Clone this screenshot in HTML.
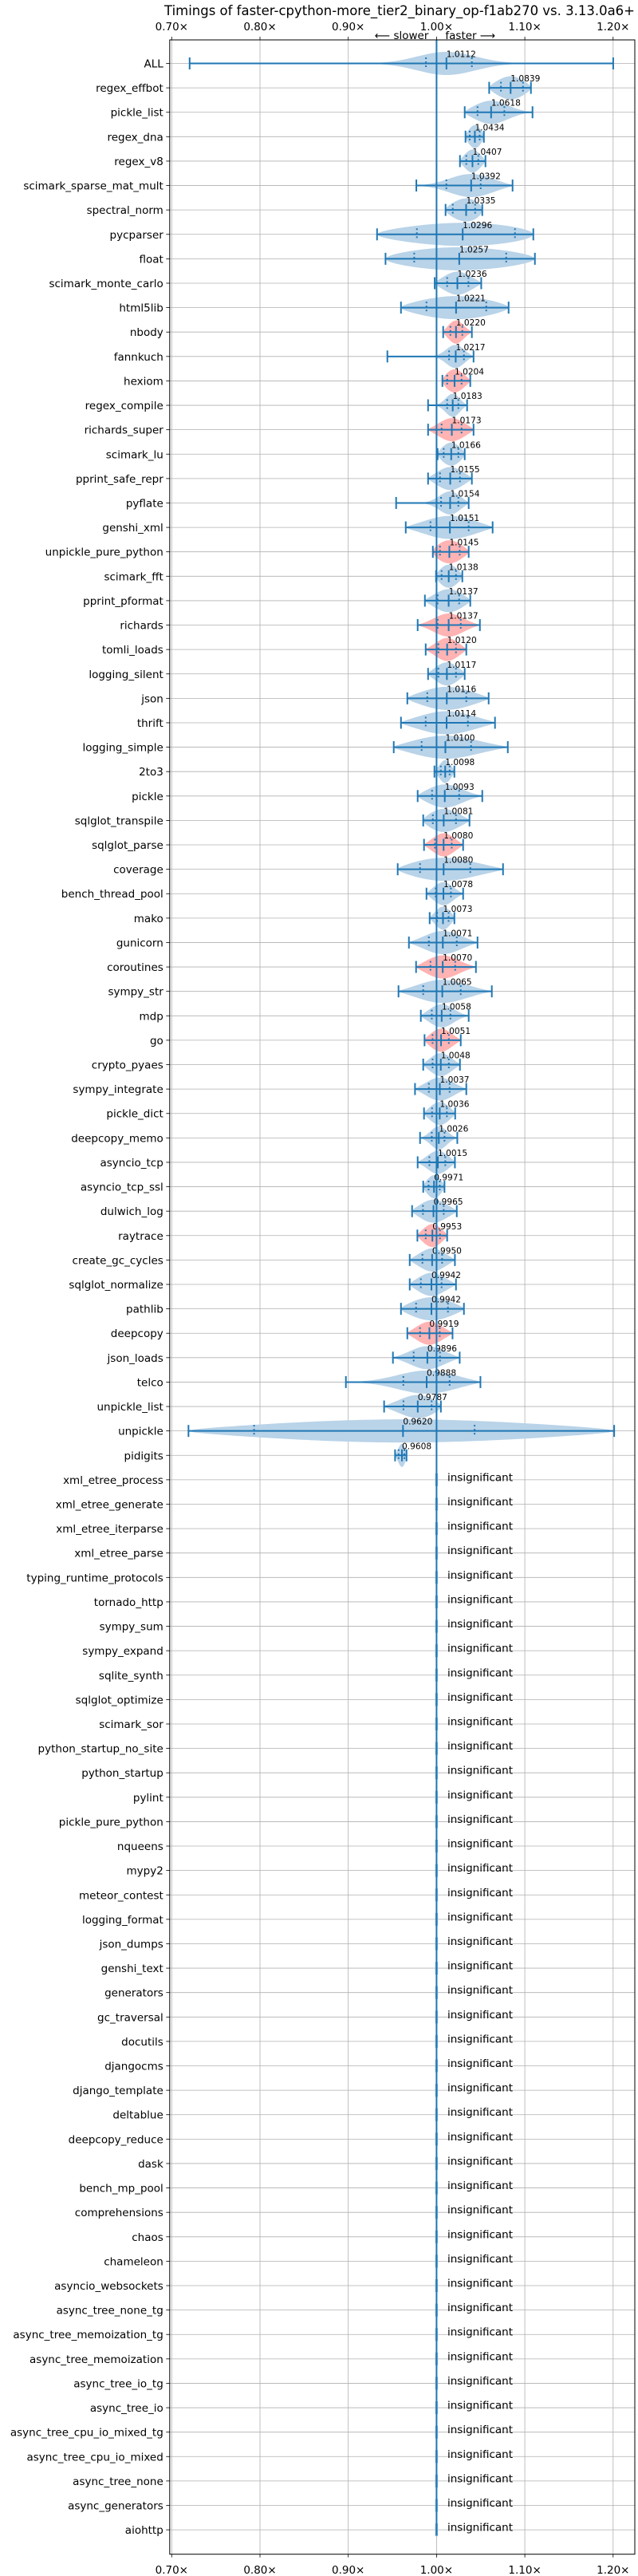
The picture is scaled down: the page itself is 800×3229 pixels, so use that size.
<!DOCTYPE html>
<html>
<head>
<meta charset="utf-8">
<style>
html,body{margin:0;padding:0;background:#fff;}
svg{display:block;font-family:"DejaVu Sans","Liberation Sans",sans-serif;}
</style>
</head>
<body>
<svg id="chart" width="800" height="3229" viewBox="0 0 800 3229" xmlns="http://www.w3.org/2000/svg">
<text x="501" y="19" font-size="16.5" text-anchor="middle" textLength="590" lengthAdjust="spacingAndGlyphs">Timings of faster-cpython-more_tier2_binary_op-f1ab270 vs. 3.13.0a6+</text>
<g id="grid"></g>
<g id="marks"></g>
<g id="axes"></g>
</svg>
<script>
const sigNames = ["ALL","regex_effbot","pickle_list","regex_dna","regex_v8","scimark_sparse_mat_mult","spectral_norm","pycparser","float","scimark_monte_carlo","html5lib","nbody","fannkuch","hexiom","regex_compile","richards_super","scimark_lu","pprint_safe_repr","pyflate","genshi_xml","unpickle_pure_python","scimark_fft","pprint_pformat","richards","tomli_loads","logging_silent","json","thrift","logging_simple","2to3","pickle","sqlglot_transpile","sqlglot_parse","coverage","bench_thread_pool","mako","gunicorn","coroutines","sympy_str","mdp","go","crypto_pyaes","sympy_integrate","pickle_dict","deepcopy_memo","asyncio_tcp","asyncio_tcp_ssl","dulwich_log","raytrace","create_gc_cycles","sqlglot_normalize","pathlib","deepcopy","json_loads","telco","unpickle_list","unpickle","pidigits"];
const mins = [0.7203,1.0596,1.0319,1.0328,1.0265,0.9771,1.0102,0.9326,0.9422,0.9979,0.9597,1.0075,0.9443,1.0066,0.9904,0.9904,1.0012,0.9904,0.9542,0.9651,0.9958,0.9994,0.9868,0.9786,0.9877,0.9904,0.9669,0.9597,0.9515,0.9976,0.9786,0.9849,0.9858,0.956,0.9886,0.9922,0.9687,0.9768,0.9569,0.9822,0.9864,0.9849,0.9756,0.9858,0.9813,0.9786,0.9849,0.9723,0.9783,0.9696,0.9696,0.9597,0.9669,0.9506,0.8973,0.9406,0.719,0.953];
const q1s = [0.988,1.0729,1.0464,1.0376,1.0337,1.0111,1.0184,0.9777,0.9747,1.012,0.9886,1.0157,1.0142,1.012,1.012,1.0057,1.0081,1.0039,1.0051,0.9931,1.0039,1.0057,1.0012,1.0012,1.0021,1.0021,0.9895,0.9877,0.9831,1.0048,0.9949,0.9958,0.9982,0.9813,0.9991,1.0006,0.9913,0.9931,0.9849,0.9946,0.9955,0.9955,0.9913,0.9949,0.9946,0.9919,0.991,0.9846,0.9877,0.984,0.9822,0.9768,0.9813,0.9741,0.9624,0.9625,0.7933,0.957];
const medians = [1.0112,1.0839,1.0618,1.0434,1.0407,1.0392,1.0335,1.0296,1.0257,1.0236,1.0221,1.0220,1.0217,1.0204,1.0183,1.0173,1.0166,1.0155,1.0154,1.0151,1.0145,1.0138,1.0137,1.0137,1.0120,1.0117,1.0116,1.0114,1.0100,1.0098,1.0093,1.0081,1.0080,1.0080,1.0078,1.0073,1.0071,1.0070,1.0065,1.0058,1.0051,1.0048,1.0037,1.0036,1.0026,1.0015,0.9971,0.9965,0.9953,0.9950,0.9942,0.9942,0.9919,0.9896,0.9888,0.9787,0.9620,0.9608];
const q3s = [1.040,1.0979,1.0768,1.0488,1.0473,1.05,1.0437,1.0888,1.0789,1.0361,1.0563,1.0292,1.031,1.0283,1.0247,1.0283,1.0247,1.0265,1.0247,1.0364,1.0262,1.022,1.0256,1.0274,1.022,1.022,1.0337,1.0355,1.0391,1.0148,1.0256,1.022,1.0172,1.0382,1.0163,1.0136,1.0229,1.0211,1.0274,1.0157,1.0139,1.0139,1.0148,1.0117,1.009,1.0099,1.0036,1.0081,1.0039,1.0063,1.0057,1.0129,1.0036,1.0039,1.0148,0.9944,1.0431,0.9635];
const maxs = [1.2001,1.1069,1.1087,1.0536,1.0554,1.0861,1.0518,1.1096,1.1114,1.0506,1.0816,1.04,1.0419,1.0382,1.0346,1.0419,1.0319,1.04,1.0364,1.0635,1.0364,1.0292,1.0382,1.0491,1.0337,1.0319,1.059,1.0662,1.0807,1.0202,1.0518,1.0373,1.0301,1.0753,1.0301,1.0202,1.0464,1.0446,1.0626,1.0364,1.0274,1.0265,1.0337,1.0211,1.0235,1.0208,1.009,1.0229,1.012,1.0208,1.022,1.031,1.0181,1.0262,1.0497,1.0049,1.2012,0.966];
const slowerFlags = ["nbody","hexiom","richards_super","unpickle_pure_python","richards","tomli_loads","sqlglot_parse","coroutines","go","raytrace","deepcopy"];
const insigNames = ["xml_etree_process","xml_etree_generate","xml_etree_iterparse","xml_etree_parse","typing_runtime_protocols","tornado_http","sympy_sum","sympy_expand","sqlite_synth","sqlglot_optimize","scimark_sor","python_startup_no_site","python_startup","pylint","pickle_pure_python","nqueens","mypy2","meteor_contest","logging_format","json_dumps","genshi_text","generators","gc_traversal","docutils","djangocms","django_template","deltablue","deepcopy_reduce","dask","bench_mp_pool","comprehensions","chaos","chameleon","asyncio_websockets","async_tree_none_tg","async_tree_memoization_tg","async_tree_memoization","async_tree_io_tg","async_tree_io","async_tree_cpu_io_mixed_tg","async_tree_cpu_io_mixed","async_tree_none","async_generators","aiohttp"];
const xTicks = [0.7,0.8,0.9,1.0,1.1,1.2];
const xTickLabels = ["0.70×","0.80×","0.90×","1.00×","1.10×","1.20×"];

const NS = "http://www.w3.org/2000/svg";
const AX_L = 212.8, AX_R = 796, AX_T = 50, AX_B = 3201.7;
function xScale(v){ return 547.4 + (v - 1) * 1107; }
function yRow(i){ return 79.5 + i * 30.61; }
function mk(parent, tag, attrs){
  const e = document.createElementNS(NS, tag);
  for (const k in attrs) e.setAttribute(k, attrs[k]);
  parent.appendChild(e);
  return e;
}
const grid = document.getElementById('grid');
const marks = document.getElementById('marks');
const axes = document.getElementById('axes');
const allNames = sigNames.concat(insigNames);
const BLUE = "#1f77b4";

xTicks.forEach((t, i) => {
  const l = mk(grid, 'line', {x1:xScale(t), x2:xScale(t), y1:AX_T, y2:AX_B, stroke:'#b0b0b0', 'stroke-width':0.8});
  
  
});
allNames.forEach((n, i) => {
  const l = mk(grid, 'line', {x1:AX_L, x2:AX_R, y1:yRow(i), y2:yRow(i), stroke:'#b0b0b0', 'stroke-width':0.8});
  
  
});

sigNames.forEach((n, i) => {
  const y = yRow(i);
  const mn = mins[i], mx = maxs[i], md = medians[i], a = q1s[i], b = q3s[i];
  const s = Math.max((b - a) / 1.6, 0.001);
  const N = 80, pts = [];
  let peak = 0;
  const ws = [];
  for (let k = 0; k <= N; k++) {
    const v = mn + (mx - mn) * k / N;
    const t = (k / N) * 2 - 1;
    const taper = Math.sqrt(Math.max(0, 1 - Math.pow(Math.abs(t), 6)));
    const d = Math.max(Math.exp(-0.5 * Math.pow((v - md) / s, 2)), 0.05) * taper;
    ws.push([v, d]);
    if (d > peak) peak = d;
  }
  ws.forEach(([v, d]) => pts.push(xScale(v).toFixed(2) + ',' + (y - 14.5 * d / peak).toFixed(2)));
  for (let k = ws.length - 1; k >= 0; k--) pts.push(xScale(ws[k][0]).toFixed(2) + ',' + (y + 14.5 * ws[k][1] / peak).toFixed(2));
  const red = slowerFlags.indexOf(n) >= 0;
  const g = mk(marks, 'g', {});
  
  
  const poly = mk(g, 'polygon', {points: pts.join(' '), fill: red ? '#ffb3b3' : '#b9d3e8'});
  
  
  const wl = mk(g, 'line', {x1:xScale(mn), x2:xScale(mx), y1:y, y2:y, stroke:BLUE, 'stroke-width':2});
  
  
  [mn, mx, md].forEach((v, j) => {
    const c = mk(g, 'line', {x1:xScale(v), x2:xScale(v), y1:y - 7.5, y2:y + 7.5, stroke:BLUE, 'stroke-width':2});
    
    
  });
  [a, b].forEach((v, j) => {
    const q = mk(g, 'line', {x1:xScale(v), x2:xScale(v), y1:y - 7.5, y2:y + 7.5, stroke:BLUE, 'stroke-width':2, 'stroke-dasharray':'2,3'});
    
    
  });
  const lbl = mk(g, 'text', {x:xScale(md), y:y - 8, 'font-size':10.6, fill:'#000'});
  lbl.textContent = md.toFixed(4);
  
  
});

insigNames.forEach((n, j) => {
  const i = sigNames.length + j;
  const y = yRow(i);
  const m = mk(marks, 'line', {x1:xScale(1), x2:xScale(1), y1:y - 8, y2:y + 8, stroke:'#8fb8da', 'stroke-width':3.5});
  
  
  const t = mk(marks, 'text', {x:561, y:y + 1.5, 'font-size':13.5, fill:'#000'});
  t.textContent = 'insignificant';
  
  
});

const base = mk(marks, 'line', {x1:xScale(1), x2:xScale(1), y1:AX_T, y2:yRow(allNames.length - 1) + 7, stroke:BLUE, 'stroke-width':2});



const frame = mk(axes, 'rect', {x:AX_L, y:AX_T, width:AX_R - AX_L, height:AX_B - AX_T, fill:'none', stroke:'#000', 'stroke-width':1});



xTicks.forEach((t, i) => {
  const x = xScale(t);
  mk(axes, 'line', {x1:x, x2:x, y1:AX_T, y2:AX_T - 4, stroke:'#000', 'stroke-width':0.8});
  mk(axes, 'line', {x1:x, x2:x, y1:AX_B, y2:AX_B + 4, stroke:'#000', 'stroke-width':0.8});
  const tt = mk(axes, 'text', {x:x, y:38, 'font-size':13.5, 'text-anchor':'middle'});
  tt.textContent = xTickLabels[i];
  
  
  const tb = mk(axes, 'text', {x:x, y:3226, 'font-size':13.5, 'text-anchor':'middle'});
  tb.textContent = xTickLabels[i];
  
  
});

allNames.forEach((n, i) => {
  const y = yRow(i);
  mk(axes, 'line', {x1:AX_L - 4.5, x2:AX_L, y1:y, y2:y, stroke:'#000', 'stroke-width':0.8});
  const t = mk(axes, 'text', {x:AX_L - 8, y:y + 5, 'font-size':13.5, 'text-anchor':'end'});
  t.textContent = n;
  
  
});

const sl = mk(axes, 'text', {x:xScale(1) - 10, y:49, 'font-size':13.5, 'text-anchor':'end'});
sl.textContent = '⟵ slower';


const fl = mk(axes, 'text', {x:xScale(1) + 11, y:49, 'font-size':13.5, 'text-anchor':'start'});
fl.textContent = 'faster ⟶';


</script>
</body>
</html>
